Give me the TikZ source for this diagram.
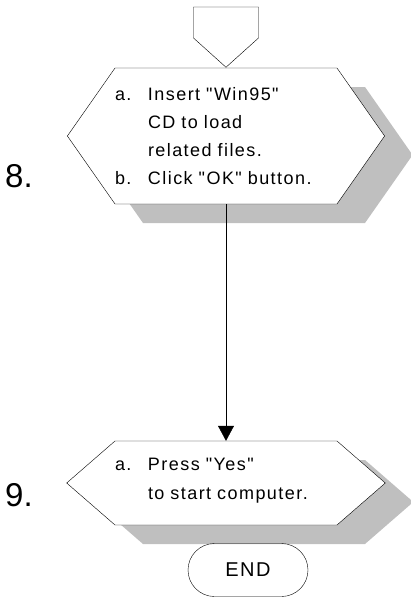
\documentclass[tikz,border=0pt]{standalone}
\usepackage{fontspec}
\setmainfont{Liberation Sans}
\newfontfamily\stepfont[LetterSpace=8]{Liberation Sans}
\usetikzlibrary{positioning,arrows.meta,shapes.symbols,shapes.misc,shadows}

\begin{document}
\begin{tikzpicture}[
    x=1pt, y=-1pt,
    stepbox/.style  = {draw, signal, signal to=west and east, signal from=nowhere,
                       fill=white, inner sep=0pt, text width=222pt, align=left,
                       font=\stepfont\fontsize{18}{28}\selectfont,
                       drop shadow={shadow xshift=28pt, shadow yshift=-19pt,
                                    fill=black!25, opacity=1}},
    pagecon/.style  = {draw, signal, signal to=south, signal from=nowhere,
                       signal pointer angle=96, minimum width=65pt,
                       minimum height=31pt, inner sep=0pt, fill=white},
    endbox/.style   = {draw, rounded rectangle, minimum width=120pt,
                       minimum height=53pt, inner sep=0pt,
                       font=\stepfont\fontsize{20}{22}\selectfont},
    steplabel/.style= {font=\fontsize{33}{36}\selectfont, inner sep=0pt},
    flow/.style     = {-{Triangle[length=15pt,width=16pt]}},
]
\useasboundingbox (0,0) rectangle (410,597);

% --- off-page connector on top ---
\node[pagecon] (top) at (226,22.5) {};

% --- step 8 ---
\node[stepbox, minimum height=136pt, signal pointer angle=110] (s8) at (226,136)
    {\makebox[33pt][l]{a.}Insert "Win95"\\
     \hspace*{33pt}CD to load\\
     \hspace*{33pt}related files.\\
     \makebox[33pt][l]{b.}Click "OK" button.};
\node[steplabel, anchor=base west] (n8) at (5,187) {8.};

% --- step 9 ---
\node[stepbox, minimum height=84pt, signal pointer angle=82] (s9) at (226,483)
    {\makebox[33pt][l]{a.}Press "Yes"\\[1pt]
     \hspace*{33pt}to start computer.\rule[-9pt]{0pt}{9pt}};
\node[steplabel, anchor=base west] (n9) at (5,506) {9.};

% --- end ---
\node[endbox] (end) at (248,570) {END};

% --- arrows ---
\draw[flow] (s8.south) -- (s9.north);

\end{tikzpicture}
\end{document}
